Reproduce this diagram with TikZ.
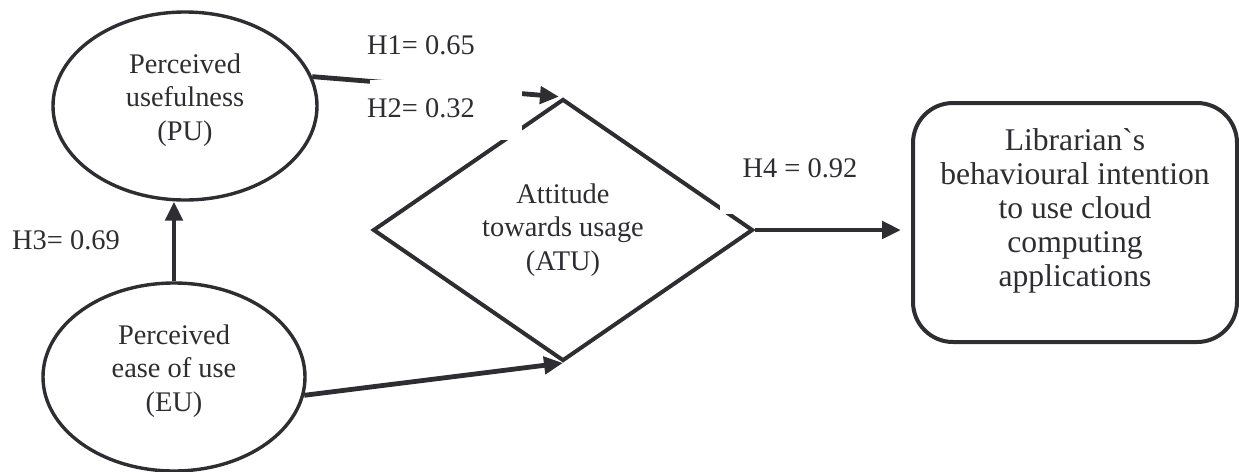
\documentclass[tikz,border=0pt]{standalone}
\usepackage{fontspec}
\setmainfont{Liberation Serif}
\usetikzlibrary{shapes.geometric,arrows.meta,calc}
\definecolor{ink}{RGB}{45,45,50}
\begin{document}
\begin{tikzpicture}[x=0.5pt,y=-0.5pt,
  every node/.style={font=\fontsize{14.2}{16.8}\selectfont, text=ink},
  ell/.style={ellipse, draw=ink, line width=1.7pt, inner sep=0pt, align=center},
  dia/.style={diamond, draw=ink, line width=2pt, inner sep=0pt, aspect=1.45, align=center},
  rbox/.style={rectangle, rounded corners=20pt, draw=ink, line width=2pt, align=center},
  arr/.style={draw=ink, line width=2.4pt, -{Triangle[length=9.5pt,width=8.5pt]}},
  lbl/.style={inner sep=0pt}]
\useasboundingbox (0,0) rectangle (1239,472);
% nodes
\node[ell, minimum width=132pt, minimum height=94pt, text depth=9pt] (PU) at (185,106) {Perceived\\usefulness\\(PU)};
\node[ell, minimum width=131pt, minimum height=94pt, text depth=9pt] (EU) at (174,377) {Perceived\\ease of use\\(EU)};
\node[dia, minimum width=190pt, minimum height=131pt] (ATU) at (563,230) {Attitude\\towards usage\\(ATU)};
\node[rbox, minimum width=162pt, minimum height=119.5pt, text depth=15pt, font=\fontsize{15.8}{16.9}\selectfont] (LIB) at (1075,222.5) {Librarian\textasciigrave s\\behavioural intention\\to use cloud\\computing\\applications};
% connectors
\draw[arr] (EU.north) -- (EU.north |- PU.south);
\draw[arr, shorten >=2pt] (PU.13) -- (ATU.north);
\draw[arr] (EU.-8) -- (ATU.south);
\draw[arr, shorten >=5pt] (ATU.east) -- (ATU.east -| LIB.west);
% label boxes that cover the lines
\fill[white] (370,80) rectangle (522,140);
\fill[white] (720,140) rectangle (880,214);
% labels
\node[lbl] (h1) at (421,45) {H1= 0.65};
\node[lbl] (h2) at (421,108) {H2= 0.32};
\node[lbl] (h3) at (66,240) {H3= 0.69};
\node[lbl] (h4) at (800,168) {H4 = 0.92};
\end{tikzpicture}
\end{document}
